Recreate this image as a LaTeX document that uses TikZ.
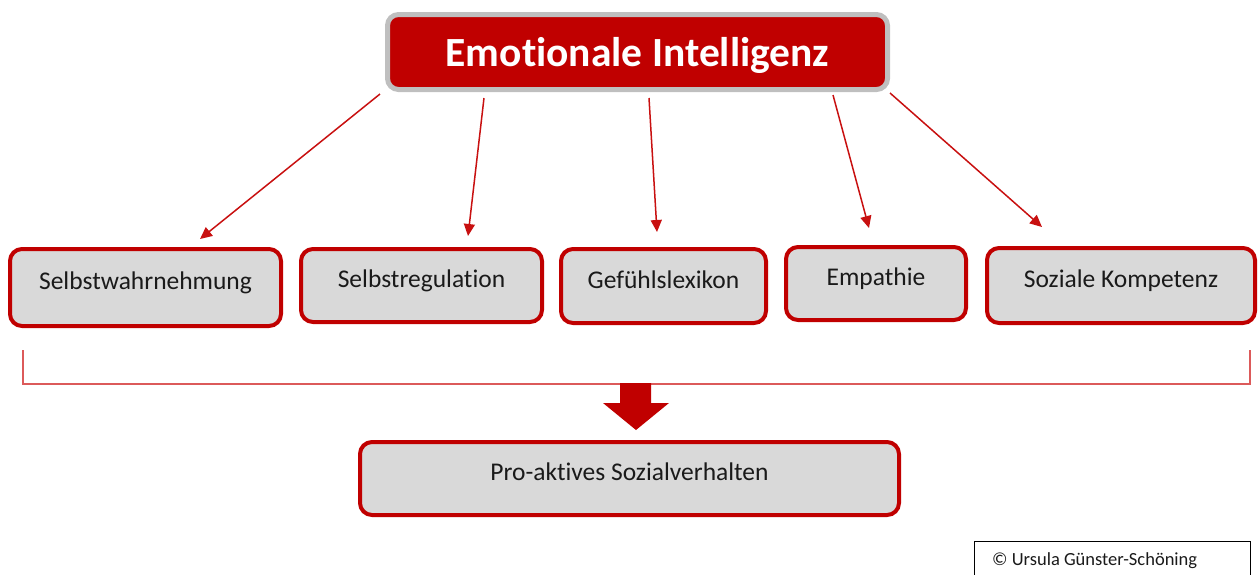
\documentclass[tikz,border=0pt]{standalone}
\usepackage{fontspec}
\setmainfont{Carlito}[Ligatures=NoCommon]
\usetikzlibrary{arrows.meta}
\definecolor{dred}{HTML}{C00000}
\definecolor{boxgray}{HTML}{D9D9D9}
\definecolor{titleborder}{HTML}{BFBFBF}
\definecolor{txt}{HTML}{1A1A1A}
\definecolor{brk}{HTML}{DC5A5A}
\definecolor{arrred}{HTML}{C81010}
\begin{document}
\begin{tikzpicture}[x=1pt,y=-1pt,
  catbox/.style={draw=dred, line width=4pt, fill=boxgray, rounded corners=12pt,
    inner sep=0pt, text height=4pt, text depth=0pt,
    font=\fontsize{25.5}{30}\selectfont, text=txt},
  titlebox/.style={draw=titleborder, line width=5pt, fill=dred, rounded corners=11pt,
    inner sep=0pt, text height=28pt, text depth=0pt,
    font=\bfseries\fontsize{41.5}{48}\selectfont, text=white},
  arr/.style={draw=arrred, line width=1.5pt, -{Triangle[length=12pt,width=11pt]}},
  brace/.style={draw=brk, line width=2.5pt},
  blockarrow/.style={fill=dred, draw=none}
]
\useasboundingbox (0,0) rectangle (1259,574);

% title
\node[titlebox, minimum width=500pt, minimum height=75pt] (t) at (637.5,52) {Emotionale Intelligenz};

% category boxes
\node[catbox, minimum width=271pt, minimum height=77pt] (s1) at (145.5,287.5) {Selbstwahrnehmung};
\node[catbox, minimum width=241pt, minimum height=73pt] (s2) at (421.5,285.5) {Selbstregulation};
\node[catbox, minimum width=205pt, minimum height=74pt] (s3) at (663.5,286) {Gefühlslexikon};
\node[catbox, minimum width=180pt, minimum height=73pt] (s4) at (876,283.5) {Empathie};
\node[catbox, minimum width=268pt, minimum height=75pt] (s5) at (1121,285.5) {Soziale Kompetenz};

% result box
\node[catbox, minimum width=539pt, minimum height=73pt] (p) at (629.5,478.5) {Pro-aktives Sozialverhalten};

% arrow coordinates
\coordinate (a1s) at (380,94);  \coordinate (a1e) at (200,239);
\coordinate (a2s) at (484,98);  \coordinate (a2e) at (468,236);
\coordinate (a3s) at (649,98);  \coordinate (a3e) at (657,232);
\coordinate (a4s) at (833,95);  \coordinate (a4e) at (869,228);
\coordinate (a5s) at (890,93);  \coordinate (a5e) at (1042,227);
\draw[arr] (a1s) -- (a1e);
\draw[arr] (a2s) -- (a2e);
\draw[arr] (a3s) -- (a3e);
\draw[arr] (a4s) -- (a4e);
\draw[arr] (a5s) -- (a5e);

% bracket
\coordinate (bl) at (23,350);
\coordinate (br) at (1250,350);
\draw[brace] (bl) -- (23,384) -- (1250,384) -- (br);

% block arrow
\fill[blockarrow] (620,383) -- (651,383) -- (651,403) -- (669,403) -- (636,430)
  -- (603,403) -- (620,403) -- cycle;

% copyright
\node[draw=black, line width=1.2pt, anchor=north west, minimum width=276pt,
  minimum height=45pt, inner sep=0pt] (cbox) at (974,541) {};
\node[anchor=base west, inner sep=0pt, font=\fontsize{18.5}{22}\selectfont, text=txt]
  (ctext) at (992,565) {© Ursula Günster-Schöning};
\end{tikzpicture}
\end{document}
